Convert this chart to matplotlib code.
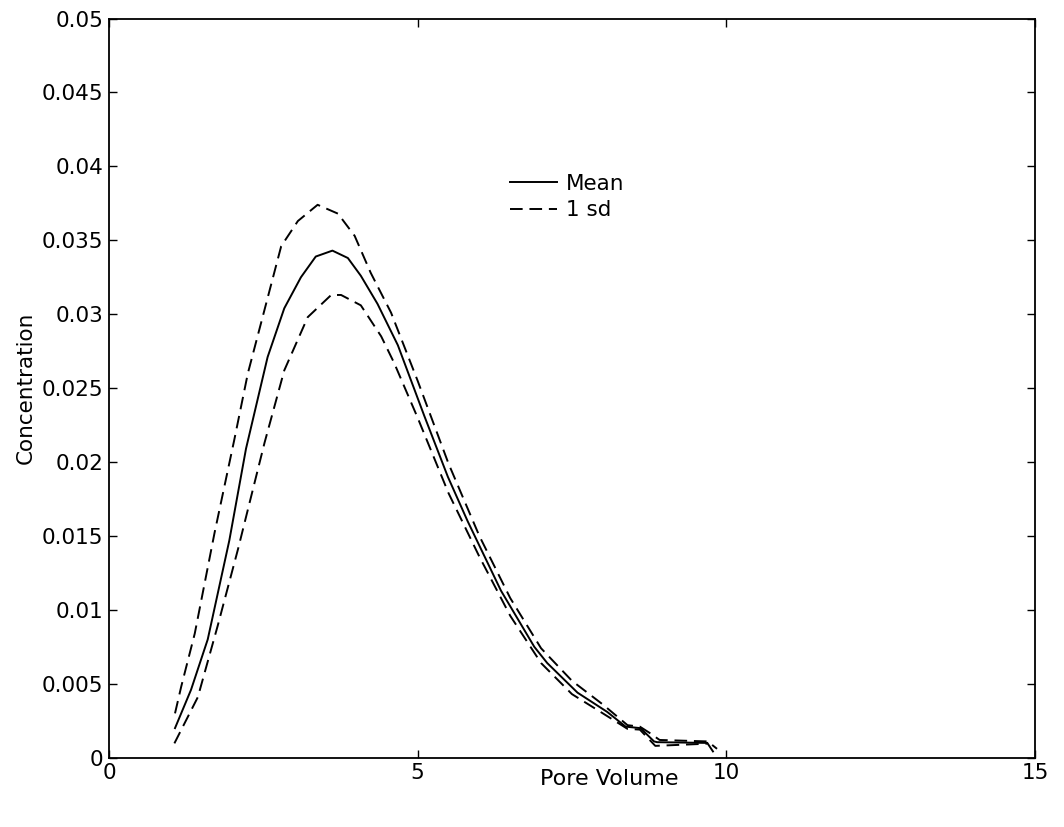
import matplotlib
matplotlib.use("Agg")
import matplotlib.pyplot as plt
from matplotlib.ticker import FixedLocator, FixedFormatter

# Breakthrough curve: mean concentration and +/- 1 standard deviation
mean_pv = [1.07, 1.33, 1.60, 1.95, 2.22, 2.57, 2.84, 3.11, 3.35, 3.62, 3.87,
           4.08, 4.35, 4.68, 5.11, 5.49, 5.81, 6.35, 6.89, 7.10, 7.59, 8.07,
           8.37, 8.61, 8.83, 8.88, 9.69]
mean_conc = [0.0020, 0.0046, 0.0080, 0.0147, 0.0209, 0.0271, 0.0304, 0.0325,
             0.0339, 0.0343, 0.0338, 0.0326, 0.0307, 0.0279, 0.0231, 0.0190,
             0.0160, 0.0113, 0.0075, 0.0064, 0.0044, 0.0031, 0.0021, 0.0020,
             0.0011, 0.00105, 0.0010]

upper_pv = [1.07, 1.17, 1.39, 1.71, 2.03, 2.25, 2.52, 2.79, 3.06, 3.38, 3.71,
            3.98, 4.24, 4.57, 5.00, 5.50, 6.00, 6.50, 7.00, 7.50, 8.00, 8.40,
            8.60, 8.75, 8.92, 9.70, 9.85]
upper_conc = [0.0030, 0.0048, 0.0084, 0.0152, 0.0215, 0.0260, 0.0303, 0.0346,
              0.0363, 0.0374, 0.0368, 0.0353, 0.0328, 0.0301, 0.0255, 0.0199,
              0.0150, 0.0108, 0.0074, 0.0052, 0.0036, 0.0022, 0.0021, 0.0017,
              0.0012, 0.0011, 0.0006]

lower_pv = [1.06, 1.44, 1.76, 2.09, 2.52, 2.84, 3.22, 3.60, 3.76, 4.08, 4.41,
            4.62, 5.00, 5.50, 6.00, 6.50, 7.00, 7.50, 8.00, 8.40, 8.60, 8.85,
            9.70, 9.82]
lower_conc = [0.00097, 0.0041, 0.0089, 0.0141, 0.0213, 0.0262, 0.0298, 0.0313,
              0.0313, 0.0306, 0.0285, 0.0267, 0.0230, 0.0179, 0.0136, 0.0096,
              0.0064, 0.0043, 0.0030, 0.00195, 0.0019, 0.0008, 0.00095, 0.0002]

x_ticks = [0, 5, 10, 15]
x_tick_labels = ["0", "5", "10", "15"]
y_ticks = [0, 0.005, 0.01, 0.015, 0.02, 0.025, 0.03, 0.035, 0.04, 0.045, 0.05]
y_tick_labels = ["0", "0.005", "0.01", "0.015", "0.02", "0.025", "0.03",
                 "0.035", "0.04", "0.045", "0.05"]

plt.rcParams["font.family"] = ["DejaVu Sans"]

fig = plt.figure(figsize=(10.64, 8.27), dpi=100)
ax = fig.add_axes([0.1024, 0.0838, 0.8703, 0.8938])

lw = 1.4
dash = (6.5, 3.5)
ax.plot(mean_pv, mean_conc, color="black", lw=lw, label="Mean")
ax.plot(upper_pv, upper_conc, color="black", lw=lw, dashes=dash, label="1 sd")
ax.plot(lower_pv, lower_conc, color="black", lw=lw, dashes=dash)

ax.set_xlim(0, 15)
ax.set_ylim(0, 0.05)
ax.xaxis.set_major_locator(FixedLocator(x_ticks))
ax.xaxis.set_major_formatter(FixedFormatter(x_tick_labels))
ax.yaxis.set_major_locator(FixedLocator(y_ticks))
ax.yaxis.set_major_formatter(FixedFormatter(y_tick_labels))
ax.tick_params(direction="in", length=6, width=1.0, labelsize=15.5,
               top=True, right=True, pad=4)
for sp in ax.spines.values():
    sp.set_linewidth(1.3)

ax.set_xlabel("Pore Volume", fontsize=16)
ax.xaxis.set_label_coords(0.54, -0.015)
ax.set_ylabel("Concentration", fontsize=15.5)
ax.yaxis.set_label_coords(-0.079, 0.5)

ax.legend(loc="upper left", bbox_to_anchor=(0.433, 0.79), frameon=False,
          fontsize=15.5, handlelength=2.2, handletextpad=0.4,
          labelspacing=0.3, borderpad=0, borderaxespad=0)

fig.savefig("out.png", dpi=100)
